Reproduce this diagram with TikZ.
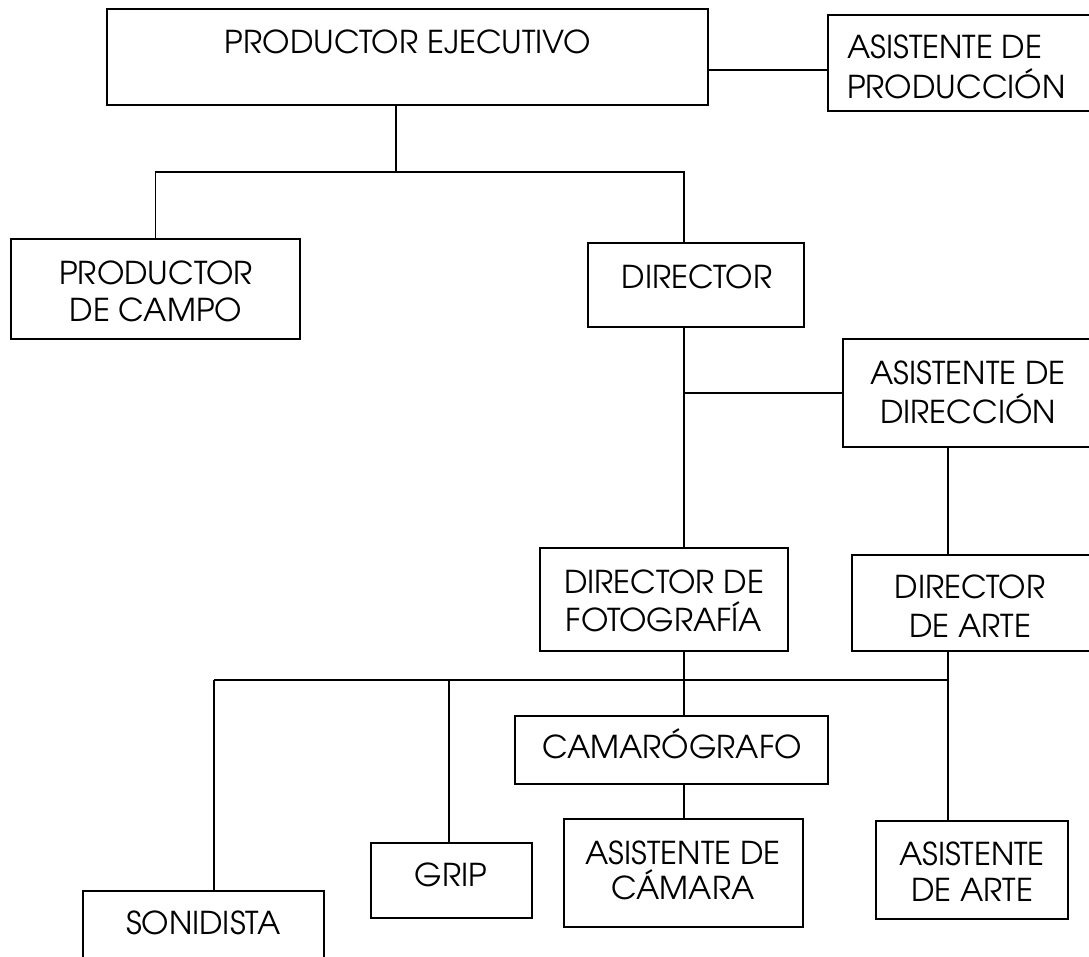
\documentclass[tikz,border=0pt]{standalone}
\usepackage{fontspec}
\setmainfont{TeX Gyre Adventor}
\begin{document}
\begin{tikzpicture}[x=1pt,y=-1pt,
  box/.style={draw=black, line width=1.6pt, inner sep=0pt, outer sep=0pt, anchor=north west, fill=white},
  ln/.style={draw=black, line width=1.4pt},
  lbl/.style={anchor=base, align=center, inner sep=0pt, font=\fontsize{31.5}{38}\selectfont},
  lbll/.style={anchor=base west, align=left, inner sep=0pt, font=\fontsize{31.5}{40}\selectfont}]
\useasboundingbox (0,0) rectangle (1089,957);
\fill[white] (0,0) rectangle (1089,957);
\clip (0,0) rectangle (1089,957);
% connector coordinates
\coordinate (apy) at (0,70);
\coordinate (j1) at (396,172);
\coordinate (dx) at (684,172);
\coordinate (ady) at (684,393);
\coordinate (ax) at (948,0);
\coordinate (h1) at (214,680);
\coordinate (h2) at (948,680);
\coordinate (gx) at (449,680);
% boxes
\node[box, minimum width=601pt, minimum height=96pt] (PE) at (107,9) {};
\node[box, minimum width=268pt, minimum height=96pt] (AP) at (828,15) {};
\node[box, minimum width=289pt, minimum height=100pt] (PC) at (11,239) {};
\node[box, minimum width=216pt, minimum height=84pt] (DIR) at (588,243) {};
\node[box, minimum width=251pt, minimum height=108pt] (AD) at (843,339) {};
\node[box, minimum width=248pt, minimum height=103pt] (DF) at (540,548) {};
\node[box, minimum width=242pt, minimum height=96pt] (DA) at (852,555) {};
\node[box, minimum width=313pt, minimum height=68pt] (CAM) at (515,716) {};
\node[box, minimum width=239pt, minimum height=108pt] (AC) at (564,819) {};
\node[box, minimum width=192pt, minimum height=98pt] (AA) at (876,821) {};
\node[box, minimum width=161pt, minimum height=75pt] (GRIP) at (371,843) {};
\node[box, minimum width=241pt, minimum height=100pt] (SON) at (83,891) {};
% labels (base = baseline of the last line)
\node[lbl] (tPE) at (408,53.5) {PRODUCTOR EJECUTIVO};
\node[lbll] (tAP) at (847,98.5) {ASISTENTE DE\\PRODUCCIÓN};
\node[lbl, font=\fontsize{31.5}{37}\selectfont] (tPC) at (156,321.5) {PRODUCTOR\\DE CAMPO};
\node[lbl] (tDIR) at (697,288.5) {DIRECTOR};
\node[lbl, font=\fontsize{31.5}{39}\selectfont] (tAD) at (968,423.5) {ASISTENTE DE\\DIRECCIÓN};
\node[lbl] (tDF) at (664,631.5) {DIRECTOR DE\\FOTOGRAFÍA};
\node[lbl, font=\fontsize{31.5}{39}\selectfont] (tDA) at (970,637.5) {DIRECTOR\\DE ARTE};
\node[lbl] (tCAM) at (672,758.5) {CAMARÓGRAFO};
\node[lbl, font=\fontsize{31.5}{35}\selectfont] (tAC) at (683,899.5) {ASISTENTE DE\\CÁMARA};
\node[lbl, font=\fontsize{31.5}{36}\selectfont] (tAA) at (972,901.5) {ASISTENTE\\DE ARTE};
\node[lbl] (tGRIP) at (451,886.5) {GRIP};
\node[lbl] (tSON) at (203.5,934.5) {SONIDISTA};
% connectors
\draw[ln] (PE.east |- apy) -- (AP.west |- apy);
\draw[ln] (PE.south -| j1) -- (j1);
\draw[ln] (PC.north) |- (dx) -- (DIR.north -| dx);
\draw[ln] (DIR.south -| dx) -- (DF.north -| dx);
\draw[ln] (ady) -- (AD.west |- ady);
\draw[ln] (AD.south -| ax) -- (DA.north -| ax);
\draw[ln] (DF.south -| dx) -- (CAM.north -| dx);
\draw[ln] (h1) -- (h2);
\draw[ln] (DA.south -| ax) -- (AA.north -| ax);
\draw[ln] (h1) -- (SON.north -| h1);
\draw[ln] (gx) -- (GRIP.north -| gx);
\draw[ln] (CAM.south -| dx) -- (AC.north -| dx);
\end{tikzpicture}
\end{document}
